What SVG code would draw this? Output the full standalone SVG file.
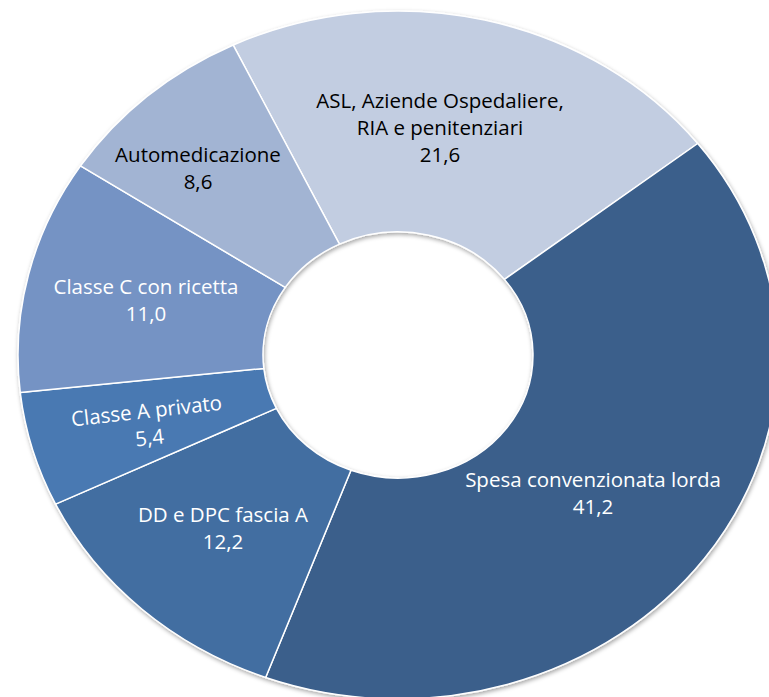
<svg xmlns="http://www.w3.org/2000/svg" width="769" height="697" viewBox="0 0 769 697">
<style>
.sl{stroke:#ffffff;stroke-width:1.5;stroke-linejoin:round}
.t{font-family:"Open Sans","Liberation Sans",sans-serif;font-size:20.5px;text-anchor:middle}
.w{fill:#ffffff}
.b{fill:#000000}
</style>
<defs>
<filter id="sh" x="-10%" y="-10%" width="120%" height="120%">
<feDropShadow dx="1" dy="2" stdDeviation="2" flood-color="#000000" flood-opacity="0.35"/>
</filter>
</defs>
<rect width="769" height="697" fill="#ffffff"/>
<g filter="url(#sh)">
<g id="asl">
<path class="sl" fill="#C2CDE1" d="M233.21,45.03 A380,344 0 0 1 697.69,143.50 L504.47,279.38 A135,123 0 0 0 339.46,244.17 Z"/>
</g>
<g id="spesa">
<path class="sl" fill="#3A5E8B" d="M697.69,143.50 A380,344 0 0 1 265.66,677.47 L350.99,470.30 A135,123 0 0 0 504.47,279.38 Z"/>
</g>
<g id="dd">
<path class="sl" fill="#436EA1" d="M265.66,677.47 A380,344 0 0 1 55.59,504.18 L276.35,408.34 A135,123 0 0 0 350.99,470.30 Z"/>
</g>
<g id="classeA">
<path class="sl" fill="#4879B2" d="M55.59,504.18 A380,344 0 0 1 20.26,392.51 L263.80,368.41 A135,123 0 0 0 276.35,408.34 Z"/>
</g>
<g id="classeC">
<path class="sl" fill="#7493C4" d="M20.26,392.51 A380,344 0 0 1 80.53,165.93 L285.22,287.40 A135,123 0 0 0 263.80,368.41 Z"/>
</g>
<g id="automed">
<path class="sl" fill="#A2B4D3" d="M80.53,165.93 A380,344 0 0 1 233.21,45.03 L339.46,244.17 A135,123 0 0 0 285.22,287.40 Z"/>
</g>
</g>
<g id="labels">
<g id="label-asl" class="t b">
<text x="440" y="108">ASL, Aziende Ospedaliere,</text>
<text x="440" y="135">RIA e penitenziari</text>
<text x="440" y="162">21,6</text>
</g>
<g id="label-automed" class="t b">
<text x="198" y="162">Automedicazione</text>
<text x="198" y="189">8,6</text>
</g>
<g id="label-classeC" class="t w">
<text x="146" y="294">Classe C con ricetta</text>
<text x="146" y="321">11,0</text>
</g>
<g id="label-classeA" class="t w" transform="rotate(-6.4 148 424)">
<text x="148" y="418">Classe A privato</text>
<text x="148" y="445">5,4</text>
</g>
<g id="label-dd" class="t w">
<text x="223" y="522">DD e DPC fascia A</text>
<text x="223" y="549">12,2</text>
</g>
<g id="label-spesa" class="t w">
<text x="593" y="487">Spesa convenzionata lorda</text>
<text x="593" y="514">41,2</text>
</g>
</g>
</svg>
